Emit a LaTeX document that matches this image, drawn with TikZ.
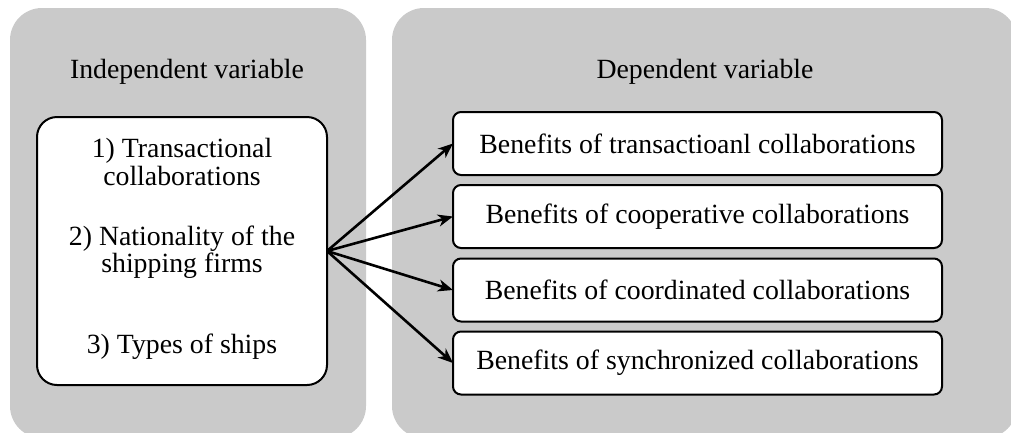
\documentclass[tikz,border=0pt]{standalone}
\usepackage{fontspec}
\setmainfont{Liberation Serif}
\usetikzlibrary{arrows.meta}
\definecolor{panelgray}{RGB}{202,202,202}
\begin{document}
\begin{tikzpicture}[x=1pt,y=-1pt,
  every node/.style={font=\fontsize{27.8}{28}\selectfont, inner sep=0pt, outer sep=0pt},
  panel/.style={fill=panelgray, rounded corners=32pt, anchor=north west},
  invbox/.style={draw=black, fill=white, line width=2pt, rounded corners=20pt},
  depbox/.style={draw=black, fill=white, line width=2pt, rounded corners=8pt,
                 minimum width=489pt, minimum height=63pt},
  label/.style={anchor=base},
  link/.style={line width=2.6pt, -{Stealth[length=15pt,width=12pt,inset=4.5pt]}}]
\useasboundingbox (0,0) rectangle (1011,432);
\clip (0,0) rectangle (1011,432);

% grey panels
\node[panel, minimum width=356pt, minimum height=430pt] (leftpanel) at (10,8) {};
\node[panel, minimum width=625pt, minimum height=430pt] (rightpanel) at (392,8) {};

% panel titles
\node[label] (indtitle) at (187,78) {Independent variable};
\node[label] (deptitle) at (705,78) {Dependent variable};

% independent variables
\node[invbox, minimum width=290pt, minimum height=268pt] (indbox) at (182,251) {};
\node[label] (ind1a) at (182,157) {1) Transactional};
\node[label] (ind1b) at (182,185) {collaborations};
\node[label] (ind2a) at (182,245) {2) Nationality of the};
\node[label] (ind2b) at (182,272) {shipping firms};
\node[label] (ind3) at (182,353) {3) Types of ships};

% dependent variables
\node[depbox] (dep1) at (697.5,143.5) {Benefits of transactioanl collaborations};
\node[depbox] (dep2) at (697.5,216.5) {Benefits of cooperative collaborations};
\node[depbox] (dep3) at (697.5,290) {Benefits of coordinated collaborations};
\node[depbox] (dep4) at (697.5,363) {Benefits of synchronized collaborations};

% links
\foreach \d in {dep1,dep2,dep3,dep4}
  \draw[link] (indbox.east) -- (\d.west);
\end{tikzpicture}
\end{document}
